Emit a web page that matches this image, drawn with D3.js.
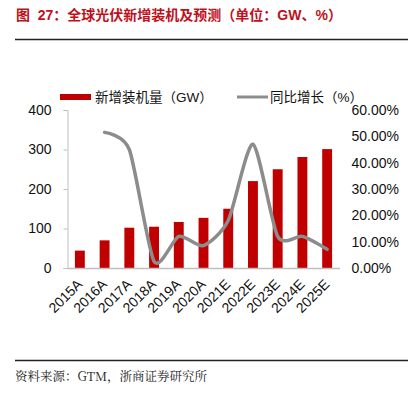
<!DOCTYPE html>
<html>
<head>
<meta charset="utf-8">
<script src="https://cdn.jsdelivr.net/npm/d3@7"></script>
<style>
  body { margin: 0; background: #fff; }
  text { font-family: "Liberation Sans", Arial, "Noto Sans CJK SC", sans-serif; }
</style>
</head>
<body>
<div id="chart"></div>
<script>
// data
var years = ["2015A", "2016A", "2017A", "2018A", "2019A", "2020A", "2021E", "2022E", "2023E", "2024E", "2025E"];
var installed = [44, 70, 102, 104.5, 116.5, 127, 150, 220, 250, 281, 301];   // GW
var growth = [null, 51.5, 45, 2.5, 12, 8.5, 18, 47, 12, 12, 7.1];            // %
var leftTicks = [0, 100, 200, 300, 400];
var rightTicks = [0, 10, 20, 30, 40, 50, 60];

var W = 408, H = 397;
var svg = d3.select("#chart").append("svg")
  .attr("width", W).attr("height", H);

// title + rules
svg.append("text")
  .attr("x", 16).attr("y", 20)
  .attr("fill", "#c0101c")
  .attr("font-weight", "bold")
  .attr("font-size", 14)
  .text("图\u00a0\u00a027：全球光伏新增装机及预测（单位：GW、%）");
svg.append("line").attr("x1", 15).attr("x2", W).attr("y1", 39.5).attr("y2", 39.5)
  .attr("stroke", "#222").attr("stroke-width", 1.3);
svg.append("line").attr("x1", 15).attr("x2", W).attr("y1", 360.5).attr("y2", 360.5)
  .attr("stroke", "#222").attr("stroke-width", 1.3);
svg.append("text")
  .attr("x", 15).attr("y", 381)
  .attr("font-size", 12.5)
  .style("font-family", "'Noto Serif CJK SC', 'Liberation Serif', 'Noto Sans CJK SC', serif")
  .attr("fill", "#222")
  .text("资料来源：GTM，浙商证券研究所");

// plot area (named pl/pr/pt/pb so they don't clash with window.top)
var pl = 67.5, pr = 339.5, pt = 110, pb = 268;

var x = d3.scaleBand().domain(years).range([pl, pr]).paddingInner(0.6).paddingOuter(0.3);
var y = d3.scaleLinear().domain([0, 400]).range([pb, pt]);
var y2 = d3.scaleLinear().domain([0, 60]).range([pb, pt]);

// left axis
var gl = svg.append("g").attr("transform", "translate(" + pl + ",0)")
  .call(d3.axisLeft(y).tickValues(leftTicks).tickSize(4).tickPadding(12));
gl.select(".domain").attr("stroke", "#bfbfbf");
gl.selectAll(".tick line").attr("stroke", "#bfbfbf");
gl.selectAll("text").attr("font-size", 14).attr("fill", "#111")
  .style("font-family", "'Liberation Sans', Arial, sans-serif");

// right axis (labels only)
var gr = svg.append("g").attr("transform", "translate(" + pr + ",0)")
  .call(d3.axisRight(y2).tickValues(rightTicks).tickSize(0).tickPadding(12)
    .tickFormat(function(d){ return d.toFixed(2) + "%"; }));
gr.select(".domain").remove();
gr.selectAll("text").attr("font-size", 14).attr("fill", "#111")
  .style("font-family", "'Liberation Sans', Arial, sans-serif");

// bars
svg.append("g").selectAll("rect").data(installed).enter().append("rect")
  .attr("x", function(d, i){ return x(years[i]); })
  .attr("y", function(d){ return y(d); })
  .attr("width", x.bandwidth())
  .attr("height", function(d){ return pb - y(d); })
  .attr("fill", "#c00000");

// bottom axis
var gb = svg.append("g").attr("transform", "translate(0," + pb + ")")
  .call(d3.axisBottom(x).tickSize(0).tickPadding(6));
gb.select(".domain").attr("stroke", "#bfbfbf").attr("stroke-width", 1.5);
gb.selectAll("text")
  .attr("font-size", 14).attr("fill", "#111")
  .style("font-family", "'Liberation Sans', Arial, sans-serif")
  .attr("text-anchor", "end")
  .attr("dx", "0.2em").attr("dy", "0.5em")
  .attr("transform", "translate(-8,10) rotate(-45)");

// growth line
var line = d3.line()
  .defined(function(d){ return d != null; })
  .x(function(d, i){ return x(years[i]) + x.bandwidth() / 2; })
  .y(function(d){ return y2(d); })
  .curve(d3.curveCardinal.tension(0.3));
svg.append("path").datum(growth)
  .attr("d", line)
  .attr("fill", "none")
  .attr("stroke", "#8c8c8c")
  .attr("stroke-width", 3.5)
  .attr("stroke-linecap", "round");

// legend
var lg = svg.append("g");
lg.append("rect").attr("x", 60).attr("y", 94).attr("width", 31).attr("height", 6).attr("fill", "#c00000");
lg.append("text").attr("x", 95).attr("y", 102).attr("font-size", 13.5).attr("fill", "#111")
  .text("新增装机量（GW）");
lg.append("line").attr("x1", 237).attr("x2", 268).attr("y1", 97).attr("y2", 97)
  .attr("stroke", "#8c8c8c").attr("stroke-width", 3);
lg.append("text").attr("x", 270).attr("y", 102).attr("font-size", 13.5).attr("fill", "#111")
  .text("同比增长（%）");
</script>
</body>
</html>
